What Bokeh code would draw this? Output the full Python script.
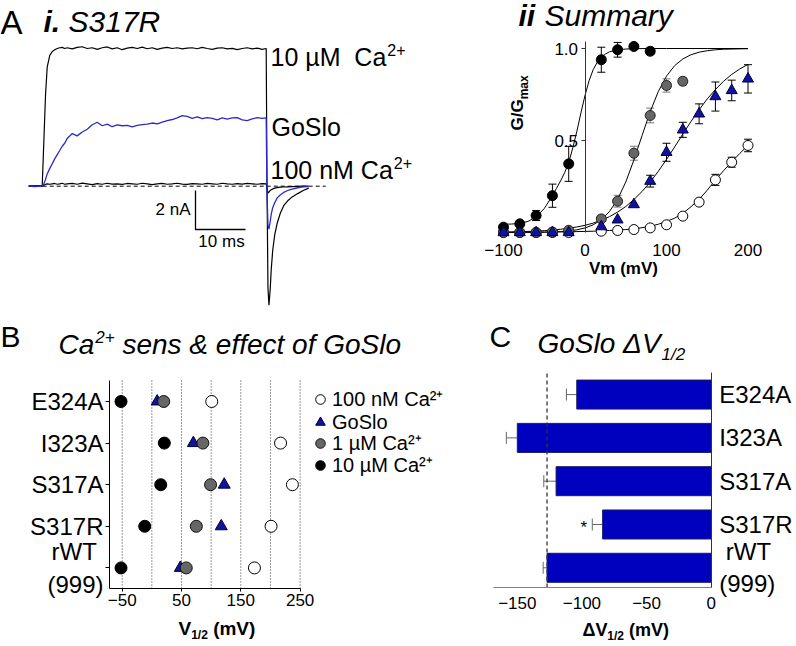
import math
from bokeh.plotting import figure
from bokeh.layouts import column, row
from bokeh.models import (Label, Legend, LegendItem, FixedTicker, Range1d, LinearAxis,
                          Whisker, TeeHead, ColumnDataSource, NumeralTickFormatter)
from bokeh.core.properties import value
from bokeh.embed import file_html
from bokeh.resources import INLINE

FONT = "Liberation Sans"
BLUE_TRACE = "#2a2acc"
NAVY = "#12129c"
BAR_BLUE = "#0000bf"
GRAY = "#666666"
NB = "\u00a0"

# ---------------- Panel A: current traces (ms, nA) ----------------
t_ms = [-2.7, -1.5, 0.0,
        0.33, 0.67, 1.0, 1.5, 2.0, 2.5, 3.0, 3.5, 4.0, 4.5, 5.0,
        6, 7, 8, 9, 10, 11, 12, 13, 14, 15, 16, 17, 18, 19, 20, 21, 22, 23, 24, 25,
        26, 27, 28, 29, 30, 31, 32, 33, 34, 35, 36, 37, 38, 39, 40, 41, 42, 43, 44,
        44.8, 44.95, 45.15, 45.35, 45.6, 45.8, 46.1, 46.5, 47.0, 47.6, 48.3, 49.1, 50.0, 51.1, 52.2, 53.3]
i_10uM = [0.0, 0.02, 0.0,
          2.3, 4.7, 6.1, 6.7, 6.9, 7.0, 7.06, 7.1, 7.12, 7.06, 7.1,
          7.04, 7.12, 7.15, 7.06, 7.1, 7.02, 7.1, 7.14, 7.04, 7.1, 7.0, 7.08, 7.12, 7.06, 7.13, 7.05, 7.1, 7.02, 7.08, 7.12,
          7.06, 7.1, 7.04, 7.08, 7.1, 7.05, 7.12, 7.06, 7.02, 7.08, 7.1, 7.04, 7.07, 7.0, 7.06, 7.1, 7.04, 7.08, 7.02,
          7.06, 0.5, -5.2, -6.1, -5.3, -4.3, -3.3, -2.5, -1.9, -1.4, -1.0, -0.75, -0.55, -0.38, -0.22, -0.1]
i_goslo = [0.0, -0.02, 0.0,
           0.12, 0.35, 0.63, 0.9, 1.15, 1.4, 1.62, 1.83, 2.05, 2.2, 2.45,
           2.7, 2.58, 2.78, 2.92, 3.15, 3.28, 3.1, 3.18, 3.05, 3.15, 3.1, 3.12, 3.04, 3.12, 3.16, 3.18, 3.24, 3.2, 3.28, 3.36,
           3.42, 3.5, 3.62, 3.58, 3.48, 3.55, 3.46, 3.52, 3.48, 3.4, 3.5, 3.44, 3.5, 3.52, 3.4, 3.36, 3.45, 3.52, 3.48,
           3.5, -0.3, -2.0, -2.2, -1.8, -1.45, -1.1, -0.85, -0.6, -0.45, -0.32, -0.22, -0.15, -0.08, -0.04, -0.02]
i_100nM = [0.0, 0.01, 0.0,
           0.05, 0.1, 0.12, 0.1, 0.12, 0.14, 0.1, 0.12, 0.15, 0.1, 0.12,
           0.14, 0.1, 0.16, 0.12, 0.08, 0.13, 0.1, 0.15, 0.11, 0.12, 0.09, 0.14, 0.12, 0.1, 0.15, 0.12, 0.08, 0.12, 0.14, 0.1,
           0.12, 0.15, 0.11, 0.09, 0.13, 0.12, 0.1, 0.14, 0.12, 0.1, 0.15, 0.12, 0.1, 0.13, 0.11, 0.14, 0.12, 0.1, 0.13,
           0.12, -0.1, -0.35, -0.3, -0.22, -0.18, -0.14, -0.1, -0.07, -0.05, -0.04, -0.03, -0.02, -0.01, 0.0, 0.0]
baseline_t = [-2.7, 56.7]
scale_ms = 10
scale_nA = 2

# ---------------- Panel ii: G/Gmax vs Vm ----------------
vm_ticks = [-100, 0, 100, 200]
g_ticks = [0.5, 1.0]
black_vm = [-100, -80, -60, -40, -20, 20, 40, 60, 80]
black_g = [0.029, 0.047, 0.092, 0.2, 0.373, 0.939, 0.993, 1.011, 0.985]
black_err = [0, 0, 0.027, 0.063, 0.095, 0.068, 0.04, 0.012, 0.018]
gray_vm = [-100, -80, -60, -40, -20, 20, 40, 60, 80, 100, 120]
gray_g = [0.0, 0.0, 0.0, 0.003, 0.012, 0.074, 0.17, 0.431, 0.636, 0.799, 0.822]
gray_err = [0, 0, 0, 0, 0, 0, 0.032, 0.038, 0.04, 0.036, 0.02]
blue_vm = [-100, -80, -60, -40, -20, 20, 40, 60, 80, 100, 120, 140, 160, 180, 200]
blue_g = [0.0, 0.0, 0.0, 0.0, 0.0, 0.032, 0.069, 0.152, 0.279, 0.436, 0.558, 0.645, 0.739, 0.772, 0.835]
blue_err = [0, 0, 0, 0, 0, 0, 0, 0, 0.032, 0.049, 0.041, 0.054, 0.079, 0.056, 0.077]
white_vm = [-100, -80, -60, -40, -20, 20, 40, 60, 80, 100, 120, 140, 160, 180, 200]
white_g = [0.0, 0.0, 0.0, 0.0, 0.0, 0.007, 0.011, 0.016, 0.025, 0.042, 0.089, 0.165, 0.286, 0.382, 0.473]
white_err = [0, 0, 0, 0, 0, 0, 0, 0, 0, 0, 0, 0, 0.03, 0.027, 0.034]

fit_black_vm = [-100, -90, -80, -70, -60, -50, -40, -35, -30, -25, -20, -15, -10, -5, 0, 5, 10, 15, 20, 25,
                30, 40, 50, 60, 80, 100, 150, 200]
fit_black_g = [0.045, 0.046, 0.05, 0.06, 0.085, 0.13, 0.2, 0.24, 0.28, 0.325, 0.38, 0.46, 0.55, 0.65, 0.745,
               0.825, 0.885, 0.925, 0.952, 0.97, 0.982, 0.993, 0.997, 0.999, 1.0, 1.0, 1.0, 1.0]
fit_vm = [-100, -90, -80, -70, -60, -50, -40, -30, -20, -10, 0, 10, 20, 30, 40, 50, 60, 70, 80, 90, 100,
          110, 120, 130, 140, 150, 160, 170, 180, 190, 200]
fit_gray_g = [0.0001, 0.0002, 0.0003, 0.0006, 0.001, 0.0017, 0.0029, 0.005, 0.0085, 0.0145, 0.0246, 0.0417,
              0.069, 0.114, 0.18, 0.274, 0.394, 0.527, 0.657, 0.767, 0.85, 0.907, 0.943, 0.966, 0.98, 0.988,
              0.993, 0.996, 0.997, 0.998, 0.999]
fit_blue_g = [0.0025, 0.0034, 0.0044, 0.0058, 0.0077, 0.0101, 0.0133, 0.0175, 0.023, 0.030, 0.039, 0.051,
              0.067, 0.086, 0.111, 0.141, 0.179, 0.223, 0.274, 0.333, 0.397, 0.465, 0.535, 0.603, 0.667, 0.726,
              0.777, 0.822, 0.859, 0.889, 0.914]
fit_white_g = [0.001, 0.001, 0.001, 0.002, 0.002, 0.002, 0.003, 0.003, 0.004, 0.005, 0.006, 0.007, 0.009,
               0.011, 0.013, 0.016, 0.02, 0.026, 0.034, 0.045, 0.06, 0.078, 0.104, 0.14, 0.18, 0.23, 0.285,
               0.336, 0.384, 0.43, 0.474]

# ---------------- Panel B: V1/2 values ----------------
mutants = ["E324A", "I323A", "S317A", "S317R", "rWT\n(999)"]
v_100nM = [101, 217, 237, 201, 173]
v_goslo = [9, 70, 122, 117, 48]
v_1uM = [20, 86, 99, 75, 58]
v_10uM = [-52, 21, 15, -12, -52]
b_ticks = [-50, 50, 150, 250]
b_grid = [-50, 0, 50, 100, 150, 200, 250]
legend_labels = ["100 nM Ca²⁺", "GoSlo", "1 µM Ca²⁺", "10 µM Ca²⁺"]

# ---------------- Panel C: GoSlo dV1/2 ----------------
dv_goslo = [-104, -150, -120, -84, -127]
dv_err = [8, 8.5, 9.5, 8, 3]
signif = ["", "", "", "*", ""]
c_ticks = [-150, -100, -50, 0]


# category positions (top to bottom) and their tick labels (multi-line ones visually centred)
def centred(label):
    lines = label.split("\n")
    if len(lines) == 1:
        return label
    return "\n".join(NB + ln + NB if len(ln) < max(len(x) for x in lines) else ln for ln in lines)


ypos = [len(mutants) - 1 - i for i in range(len(mutants))]
cat_labels = {p: centred(m) for p, m in zip(ypos, mutants)}

# ---------------- helpers ----------------
W_REG = {' ': .278, NB: .278, '(': .333, ')': .333, '/': .278, '.': .278, '&': .667, '+': .584, 'A': .667,
         'C': .722, 'E': .667, 'G': .778, 'I': .278, 'M': .833, 'R': .722, 'S': .667, 'V': .667,
         'a': .556, 'c': .5, 'e': .556, 'f': .278, 'i': .222, 'l': .222, 'm': .833, 'n': .556,
         'o': .556, 'r': .333, 's': .5, 't': .278, 'u': .556, 'x': .5, 'y': .5, 'µ': .576, 'Δ': .668}
W_BOLD = {' ': .278, NB: .278, '(': .333, ')': .333, '/': .278, 'V': .667, 'm': .889, 'Δ': .708, 'i': .278,
          'G': .778, 'a': .556, 'x': .556}
BASE_SHIFT = 0.33   # correction so that the given y is the visual baseline


def tw(s, size, bold=False):
    tab = W_BOLD if bold else W_REG
    return sum(tab.get(c, .556) for c in s) * size


def frame_map(frame, xr, yr):
    l, r, t, b = frame

    def fx(px):
        return xr[0] + (px - l) / (r - l) * (xr[1] - xr[0])

    def fy(py):
        return yr[0] + (b - py) / (b - t) * (yr[1] - yr[0])
    return fx, fy


def add_text(p, fm, px, py, text, size, style="normal", color="black", angle=0.0, align="left"):
    fx, fy = fm
    if angle:
        px -= BASE_SHIFT * size
    else:
        py -= BASE_SHIFT * size
    p.add_layout(Label(x=fx(px), y=fy(py), text=text, text_font=FONT, text_font_size=f"{size}px",
                       text_font_style=style, text_color=color, angle=angle, text_align=align,
                       text_baseline="alphabetic"))


def base_fig(width, height, xr, yr):
    p = figure(width=width, height=height, x_range=Range1d(*xr), y_range=Range1d(*yr),
               output_backend="svg", toolbar_location=None, outline_line_color=None,
               background_fill_color="white", border_fill_color="white", min_border=0)
    p.xgrid.visible = False
    p.ygrid.visible = False
    for ax in p.axis:
        ax.major_label_text_color = "black"
        ax.major_label_text_font = FONT
        ax.minor_tick_line_color = None
        ax.major_tick_in = 0
    return p


def add_err(p, xs, ys, es, color, size=8):
    keep = [(x, y, e) for x, y, e in zip(xs, ys, es) if e > 0]
    src = ColumnDataSource(dict(x=[k[0] for k in keep], lo=[k[1] - k[2] for k in keep],
                                hi=[k[1] + k[2] for k in keep]))
    p.add_layout(Whisker(source=src, base="x", lower="lo", upper="hi", dimension="height",
                         line_color=color, line_width=1, level="underlay",
                         upper_head=TeeHead(size=size, line_color=color, line_width=1),
                         lower_head=TeeHead(size=size, line_color=color, line_width=1)))


# ================= Panel A =================
A_FRAME = (0, 470, 0, 318)
A_X = (-8.34, 85.66)
A_Y = (-6.785, 9.523)
pA = base_fig(470, 318, A_X, A_Y)
pA.xaxis.visible = False
pA.yaxis.visible = False
fmA = frame_map(A_FRAME, A_X, A_Y)

pA.segment(x0=[baseline_t[0]], y0=[0], x1=[baseline_t[1]], y1=[0], line_color="black",
           line_width=1, line_dash="4 3")
pA.line(t_ms, i_100nM, line_color="black", line_width=1.2)
pA.line(t_ms, i_10uM, line_color="black", line_width=1.2)
pA.line(t_ms, i_goslo, line_color=BLUE_TRACE, line_width=1.3)
sb_x, sb_y = fmA[0](195), fmA[1](190)
pA.line([sb_x, sb_x, sb_x + scale_ms], [sb_y, sb_y - scale_nA, sb_y - scale_nA], line_color="black",
        line_width=1.3)

add_text(pA, fmA, 0, 33, "A", 33)
add_text(pA, fmA, 43, 31, "i.", 30, style="bold italic")
add_text(pA, fmA, 68, 31, "S317R", 30, style="italic")
s1 = "10 µM" + NB + NB + "Ca"
add_text(pA, fmA, 270, 65, s1, 25)
add_text(pA, fmA, 270 + tw(s1, 25) + 1, 55, "2+", 16)
add_text(pA, fmA, 271, 135, "GoSlo", 25)
s3 = "100 nM Ca"
add_text(pA, fmA, 270, 178, s3, 25)
add_text(pA, fmA, 270 + tw(s3, 25) + 1, 168, "2+", 16)
add_text(pA, fmA, 190, 215, f"{scale_nA} nA", 17, align="right")
add_text(pA, fmA, 221, 247, f"{scale_ms} ms", 17, align="center")

# ================= Panel ii =================
S_FRAME = (470, 796, 0, 318)
S_X = (-140.5, 259.5)
S_Y = (-0.4674, 1.2609)
pS = base_fig(326, 318, S_X, S_Y)
fmS = frame_map(S_FRAME, S_X, S_Y)

xa = pS.xaxis[0]
xa.fixed_location = fmS[1](234.5)
xa.ticker = FixedTicker(ticks=vm_ticks)
xa.axis_line_color = None
xa.major_tick_line_color = None
xa.major_label_text_font_size = "17px"
xa.major_label_standoff = 3

ya = pS.yaxis[0]
ya.fixed_location = 0
ya.ticker = FixedTicker(ticks=g_ticks)
ya.formatter = NumeralTickFormatter(format="0.0")
ya.bounds = (0, 1.04)
ya.axis_line_color = "#333333"
ya.major_tick_line_color = "#333333"
ya.major_tick_out = 4
ya.major_label_text_font_size = "17px"
ya.major_label_standoff = 3

pS.line(fit_black_vm, fit_black_g, line_color="black", line_width=1)
pS.line(fit_vm, fit_gray_g, line_color="black", line_width=1)
pS.line(fit_vm, fit_blue_g, line_color="black", line_width=1)
pS.line(fit_vm, fit_white_g, line_color="black", line_width=1)

add_err(pS, white_vm, white_g, white_err, "black")
add_err(pS, gray_vm, gray_g, gray_err, "#777777")
add_err(pS, black_vm, black_g, black_err, "black")
add_err(pS, blue_vm, blue_g, blue_err, "black")

pS.scatter(white_vm, white_g, marker="circle", size=10, fill_color="white", line_color="black")
pS.scatter(gray_vm, gray_g, marker="circle", size=10, fill_color=GRAY, line_color="#222222")
pS.scatter(black_vm, black_g, marker="circle", size=10, fill_color="black", line_color="black")
pS.scatter(blue_vm, blue_g, marker="triangle", size=11, fill_color=NAVY, line_color="#000044")

add_text(pS, fmS, 518, 25, "ii", 30, style="bold italic")
add_text(pS, fmS, 544, 25, "Summary", 30, style="italic")
add_text(pS, fmS, 523, 130, "G/G", 17, style="bold", angle=math.pi / 2)
add_text(pS, fmS, 527, 130 - tw("G/G", 17, True), "max", 12, style="bold", angle=math.pi / 2)
add_text(pS, fmS, 623, 274, "Vm (mV)", 17, style="bold", align="center")

# ================= Panel B =================
B_FRAME = (0, 485, 318, 646)
B_X = (-255.2, 562.6)
B_Y = (-1.889, 5.995)
pB = base_fig(485, 328, B_X, B_Y)
fmB = frame_map(B_FRAME, B_X, B_Y)
b_left = fmB[0](109)
b_bottom = fmB[1](588)
b_top = fmB[1](380)

pB.segment(x0=b_grid, y0=[b_bottom] * len(b_grid), x1=b_grid, y1=[b_top] * len(b_grid),
           line_color="#333333", line_width=1, line_dash="1 2")

bx = pB.xaxis[0]
bx.fixed_location = b_bottom
bx.bounds = (b_left, b_grid[-1])
bx.ticker = FixedTicker(ticks=b_ticks)
bx.axis_line_color = "black"
bx.major_tick_out = 3
bx.major_label_text_font_size = "17px"
bx.major_label_standoff = 2

by = pB.yaxis[0]
by.fixed_location = b_left
by.bounds = (b_bottom, b_top)
by.ticker = FixedTicker(ticks=ypos)
by.major_label_overrides = cat_labels
by.axis_line_color = "black"
by.major_tick_out = 4
by.major_label_text_font_size = "24px"
by.major_label_standoff = 2

r_white = pB.scatter(v_100nM, ypos, marker="circle", size=12, fill_color="white", line_color="black")
r_blue = pB.scatter(v_goslo, ypos, marker="triangle", size=12, fill_color=NAVY, line_color="#000044")
r_gray = pB.scatter(v_1uM, ypos, marker="circle", size=12, fill_color=GRAY, line_color="#111111")
r_black = pB.scatter(v_10uM, ypos, marker="circle", size=12, fill_color="black", line_color="black")

# one legend per row so that the row pitch stays tight, as in the reference
LEG_ROW_CENTERS = [399, 421, 443, 465]
LEG_ROW_H = 26
for lab_txt, rend, cy_px in zip(legend_labels, [r_white, r_blue, r_gray, r_black], LEG_ROW_CENTERS):
    pB.add_layout(Legend(items=[LegendItem(label=lab_txt, renderers=[rend])],
                         location=(308, 646 - (cy_px + LEG_ROW_H / 2)), orientation="vertical",
                         border_line_color=None, background_fill_alpha=0, label_text_font=FONT,
                         label_text_font_size="20px", label_text_color="black", label_height=20,
                         glyph_width=24, glyph_height=24, spacing=0, padding=0, margin=0,
                         label_standoff=0))

add_text(pB, fmB, 0, 346, "B", 30)
add_text(pB, fmB, 58, 353, "Ca", 28, style="italic")
xs = 58 + tw("Ca", 28) + 1
add_text(pB, fmB, xs, 342, "2+", 17, style="italic")
xs += tw("2+", 17)
add_text(pB, fmB, xs, 353, NB + "sens & effect of GoSlo", 28, style="italic")
xl = 178
add_text(pB, fmB, xl, 634, "V", 19, style="bold")
xl += tw("V", 19, True)
add_text(pB, fmB, xl, 638, "1/2", 12, style="bold")
xl += tw("1/2", 12, True)
add_text(pB, fmB, xl, 634, NB + "(mV)", 19, style="bold")

# ================= Panel C =================
C_FRAME = (485, 796, 318, 646)
C_X = (-174.6, 65.97)
C_Y = (-1.8176, 5.757)
pC = base_fig(311, 328, C_X, C_Y)
fmC = frame_map(C_FRAME, C_X, C_Y)
c_left = fmC[0](493)
c_bottom = fmC[1](587)
c_top = fmC[1](372)

cx = pC.xaxis[0]
cx.fixed_location = c_bottom
cx.bounds = (c_left, 0)
cx.ticker = FixedTicker(ticks=c_ticks)
cx.axis_line_color = "#808080"
cx.major_tick_line_color = None
cx.major_label_text_font_size = "17px"
cx.major_label_standoff = 3

pC.yaxis.visible = False
cy = LinearAxis(fixed_location=0, bounds=(c_bottom, c_top), ticker=FixedTicker(ticks=ypos),
                major_label_overrides=cat_labels, axis_line_color="#333333", major_tick_line_color=None,
                minor_tick_line_color=None, major_label_text_font=FONT, major_label_text_font_size="24px",
                major_label_text_color="black", major_label_standoff=2)
pC.add_layout(cy, "right")

pC.hbar(y=ypos, left=dv_goslo, right=0, height=0.67, fill_color=BAR_BLUE, line_color="#1a1a66",
        line_width=1)
csrc = ColumnDataSource(dict(y=ypos, lo=[v - e for v, e in zip(dv_goslo, dv_err)], hi=dv_goslo))
pC.add_layout(Whisker(source=csrc, base="y", lower="lo", upper="hi", dimension="width",
                      line_color="#666666", line_width=1, level="underlay", upper_head=None,
                      lower_head=TeeHead(size=12, line_color="#666666", line_width=1)))
star_src = ColumnDataSource(dict(x=[v - e - 6.5 for v, e in zip(dv_goslo, dv_err)], y=ypos, t=signif))
pC.text(x="x", y="y", text="t", source=star_src, text_font=value(FONT), text_font_size="17px",
        text_align="center", text_baseline="middle", y_offset=3, text_color="black")
pC.segment(x0=[dv_goslo[-1]], y0=[c_bottom], x1=[dv_goslo[-1]], y1=[c_top], line_color="#333333",
           line_width=1.3, line_dash="4 3")

add_text(pC, fmC, 489, 346, "C", 30)
xt = 537
add_text(pC, fmC, xt, 352, "GoSlo ΔV", 28, style="italic")
xt += tw("GoSlo ΔV", 28) + 1
add_text(pC, fmC, xt, 360, "1/2", 17, style="italic")
xc = 582
add_text(pC, fmC, xc, 635, "ΔV", 18, style="bold")
xc += tw("ΔV", 18, True)
add_text(pC, fmC, xc, 639, "1/2", 12, style="bold")
xc += tw("1/2", 12, True)
add_text(pC, fmC, xc, 635, NB + "(mV)", 18, style="bold")

layout = column(row(pA, pS), row(pB, pC))
open("out.html", "w").write(file_html(layout, INLINE))
